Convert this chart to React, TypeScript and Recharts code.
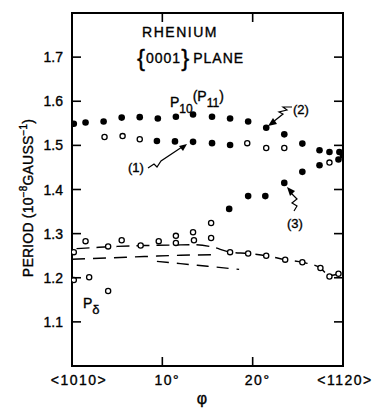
import React from 'react';
import { ComposedChart, Scatter, Line, XAxis, YAxis, ReferenceArea } from 'recharts';

// phi (deg), period (1e-8 gauss^-1)
const filledDots: [number, number][] = [
  [0.2, 1.549], [1.5, 1.552], [3.5, 1.554], [5.5, 1.563], [7.5, 1.564], [9.5, 1.561],
  [11.5, 1.565], [13.4, 1.57], [15.5, 1.565], [17.5, 1.561], [19.5, 1.554], [21.5, 1.54],
  [23.5, 1.525], [25.5, 1.504], [27.4, 1.489], [28.5, 1.485], [29.6, 1.485], [30, 1.477],
];
const filledMiddle: [number, number][] = [
  [9.4, 1.51], [11.4, 1.509], [13.4, 1.508], [15.5, 1.505], [17.5, 1.501],
];
const filledRising: [number, number][] = [
  [17.4, 1.356], [19.5, 1.385], [21.4, 1.385], [23.5, 1.415], [25.5, 1.44], [27.4, 1.455], [29.5, 1.468],
];
const openUpper: [number, number][] = [
  [3.6, 1.519], [5.6, 1.521], [7.5, 1.514], [19.4, 1.505], [21.5, 1.494], [23.5, 1.494], [28.5, 1.461],
];
const openLower: [number, number][] = [
  [0.2, 1.258], [1.5, 1.283], [4.0, 1.271], [5.5, 1.285], [7.6, 1.273], [9.6, 1.283],
  [11.5, 1.295], [11.5, 1.279], [13.4, 1.303], [13.5, 1.285], [15.4, 1.324], [15.4, 1.29],
  [17.5, 1.258], [19.5, 1.255], [21.5, 1.25], [23.6, 1.241], [25.5, 1.235], [27.5, 1.222],
  [28.5, 1.203], [29.5, 1.209],
];
const openDelta: [number, number][] = [[0.2, 1.195], [1.9, 1.201], [4.0, 1.17]];

const curveA: [number, number][] = [
  [0.5, 1.266], [3, 1.269], [5, 1.271], [8, 1.273], [11, 1.274], [13.5, 1.275], [15.5, 1.27],
  [17.5, 1.258], [19.5, 1.255], [21.5, 1.25], [23.6, 1.241], [25.5, 1.235], [27.5, 1.222],
  [28.5, 1.205], [29.5, 1.209],
];
const curveB: [number, number][] = [[0, 1.242], [4, 1.245], [8, 1.248], [12, 1.251], [15.5, 1.252]];
const curveC: [number, number][] = [[9.4, 1.237], [12, 1.232], [15, 1.226], [18.5, 1.219]];

const xTicks = [0, 10, 20, 30];
const xTickLabels: Record<number, string> = { 0: '<1010>', 10: '10°', 20: '20°', 30: '<1120>' };
const yTicks = [1.1, 1.2, 1.3, 1.4, 1.5, 1.6, 1.7];

const W = 381;
const H = 409;
const LEFT = 72;
const RIGHT = 343;
const TOP = 13;
const BOTTOM = 366;
const FONT = '"Liberation Sans", Arial, sans-serif';
const INK = '#000';

const toPts = (arr: [number, number][]) => arr.map(([x, y]) => ({ x, y }));

function FilledDot(props: any) {
  const { cx, cy } = props;
  return <circle cx={cx} cy={cy} r={3.3} fill={INK} />;
}

function OpenDot(props: any) {
  const { cx, cy } = props;
  return <circle cx={cx} cy={cy} r={2.6} fill="#fff" stroke={INK} strokeWidth={1.3} />;
}

function YTick(props: any) {
  const { y, payload } = props;
  return (
    <g>
      <text x={LEFT - 9} y={y + 5} textAnchor="end" fontFamily={FONT} fontSize={14} fill={INK} stroke={INK} strokeWidth={0.35}>
        {Number(payload.value).toFixed(1)}
      </text>
      <line x1={LEFT} x2={LEFT + 9} y1={y} y2={y} stroke={INK} strokeWidth={1.6} />
      <line x1={RIGHT - 9} x2={RIGHT} y1={y} y2={y} stroke={INK} strokeWidth={1.6} />
    </g>
  );
}

function XTick(props: any) {
  const { x, payload } = props;
  const v = payload.value as number;
  const inner = v > 0 && v < 30;
  const dx = v === 0 ? 7 : v === 30 ? 2 : 5;
  return (
    <g>
      <text x={x + dx} y={BOTTOM + 19} textAnchor="middle" fontFamily={FONT} fontSize={14} fill={INK} stroke={INK} strokeWidth={0.35} letterSpacing={1.5}>
        {xTickLabels[v]}
      </text>
      {inner && <line x1={x} x2={x} y1={BOTTOM} y2={BOTTOM - 9} stroke={INK} strokeWidth={1.6} />}
      {inner && <line x1={x} x2={x} y1={TOP} y2={TOP + 9} stroke={INK} strokeWidth={1.6} />}
    </g>
  );
}

function Annotations() {
  const t = { fontFamily: FONT, fill: INK, stroke: INK, strokeWidth: 0.35 } as const;
  return (
    <svg width={W} height={H} style={{ position: 'absolute', left: 0, top: 0, pointerEvents: 'none' }}>
      <text x={180} y={37} textAnchor="middle" fontSize={14} letterSpacing={1.5} {...t}>RHENIUM</text>
      <text x={137} y={63} fontSize={14} letterSpacing={1} {...t}>
        <tspan fontSize={24} dy={3}>{'{'}</tspan>
        <tspan dy={-3}>0001</tspan>
        <tspan fontSize={24} dy={3}>{'}'}</tspan>
        <tspan dy={-3} dx={3}>PLANE</tspan>
      </text>
      <text x={170} y={107} fontSize={14} {...t}>
        P<tspan fontSize={12} dy={6}>10</tspan>
        <tspan dy={-12}>(P</tspan>
        <tspan fontSize={12} dy={6}>11</tspan>
        <tspan dy={-6}>)</tspan>
      </text>
      <text x={293} y={114} fontSize={13} {...t}>(2)</text>
      <text x={128} y={172} fontSize={13} {...t}>(1)</text>
      <text x={287} y={228} fontSize={13} {...t}>(3)</text>
      <text x={83} y={308} fontSize={14} {...t}>
        P<tspan fontSize={13} dy={6}>δ</tspan>
      </text>

      {/* arrow (1) */}
      <path d="M148,168 L154,164 L157,167 L161,161 L182,147" fill="none" stroke={INK} strokeWidth={1.2} />
      <polygon points="187,144 179,146 183,151" fill={INK} />
      {/* arrow (2) */}
      <path d="M273,122 L283,114 L279,112 L287,110 L283,107 L292,107" fill="none" stroke={INK} strokeWidth={1.2} />
      <polygon points="268,126 273,118 277,124" fill={INK} />
      {/* arrow (3) */}
      <path d="M290,192 L297,199 L292,203 L297,206 L294,211" fill="none" stroke={INK} strokeWidth={1.2} />
      <polygon points="287,187 295,191 290,196" fill={INK} />

      <text x={33} y={198} transform="rotate(-90 33 198)" textAnchor="middle" fontSize={14} letterSpacing={0.2} {...t}>
        PERIOD (10<tspan fontSize={10} dy={-6}>−8</tspan>
        <tspan dy={6}>GAUSS</tspan>
        <tspan fontSize={10} dy={-6}>−1</tspan>
        <tspan dy={6}>)</tspan>
      </text>
      <text x={202} y={404} textAnchor="middle" fontSize={16} {...t}>φ</text>
    </svg>
  );
}

export default function App() {
  return (
    <div style={{ position: 'absolute', left: 0, top: 0, width: W, height: H, background: '#fff' }}>
      <ComposedChart width={W} height={H} margin={{ top: TOP, right: W - RIGHT, bottom: 0, left: 0 }}>
        <XAxis
          dataKey="x"
          type="number"
          domain={[0, 30]}
          ticks={xTicks}
          height={H - BOTTOM}
          tickSize={0}
          tickMargin={0}
          tickLine={false}
          axisLine={false}
          tick={<XTick />}
          allowDataOverflow
        />
        <YAxis
          type="number"
          domain={[1.0, 1.8]}
          ticks={yTicks}
          width={LEFT}
          tickSize={0}
          tickMargin={0}
          tickLine={false}
          axisLine={false}
          tick={<YTick />}
          allowDataOverflow
        />
        <ReferenceArea x1={0} x2={30} y1={1.0} y2={1.8} fill="none" stroke={INK} strokeOpacity={1} strokeWidth={2} />
        <Line data={toPts(curveA)} dataKey="y" type="monotone" stroke={INK} strokeWidth={1.4} strokeDasharray="13 7" dot={false} isAnimationActive={false} />
        <Line data={toPts(curveB)} dataKey="y" type="monotone" stroke={INK} strokeWidth={1.4} strokeDasharray="13 8" dot={false} isAnimationActive={false} />
        <Line data={toPts(curveC)} dataKey="y" type="monotone" stroke={INK} strokeWidth={1.4} strokeDasharray="12 8" dot={false} isAnimationActive={false} />
        <Scatter data={toPts(filledDots)} dataKey="y" shape={<FilledDot />} isAnimationActive={false} />
        <Scatter data={toPts(filledMiddle)} dataKey="y" shape={<FilledDot />} isAnimationActive={false} />
        <Scatter data={toPts(filledRising)} dataKey="y" shape={<FilledDot />} isAnimationActive={false} />
        <Scatter data={toPts(openUpper)} dataKey="y" shape={<OpenDot />} isAnimationActive={false} />
        <Scatter data={toPts(openLower)} dataKey="y" shape={<OpenDot />} isAnimationActive={false} />
        <Scatter data={toPts(openDelta)} dataKey="y" shape={<OpenDot />} isAnimationActive={false} />
      </ComposedChart>
      <Annotations />
    </div>
  );
}
